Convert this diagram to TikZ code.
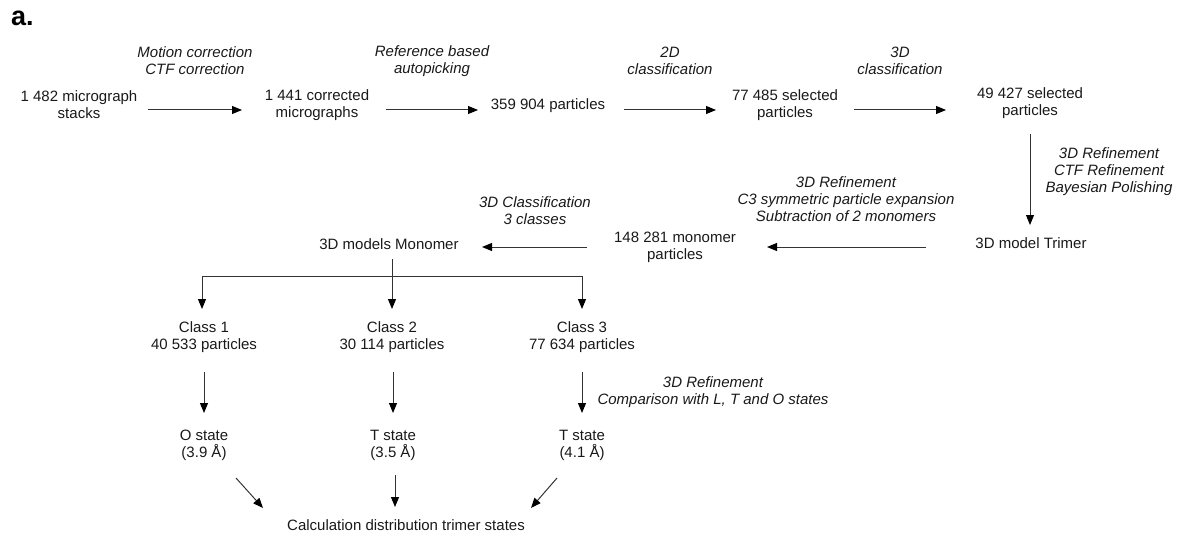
\documentclass[tikz,border=0pt]{standalone}
\usepackage{fontspec}
\setmainfont{Liberation Sans}
\usetikzlibrary{arrows.meta,calc}
\begin{document}
\begin{tikzpicture}[x=1pt,y=-1pt,
  txt/.style={font=\fontsize{15}{17}\selectfont, align=center, inner sep=0pt, text=black!90},
  lbl/.style={txt, font=\fontsize{15}{17}\selectfont\itshape},
  arr/.style={draw=black!80, line width=1pt, -{Triangle[length=10pt,width=8pt,color=black]}}]
\useasboundingbox (0,0) rectangle (1182,540);

\node[font=\fontsize{27}{30}\selectfont\bfseries, anchor=base west, inner sep=0pt, text=black] (tag) at (11,26) {a.};

% main nodes
\node[txt] (n1) at (79,105) {1 482 micrograph\\stacks};
\node[txt] (n2) at (317,105) {1 441 corrected\\micrographs};
\node[txt] (n3) at (548,106) {359 904 particles};
\node[txt] (n4) at (785,105) {77 485 selected\\particles};
\node[txt] (n5) at (1030,103) {49 427 selected\\particles};
\node[txt] (n6) at (1031,243) {3D model Trimer};
\node[txt] (n7) at (675,247) {148 281 monomer\\particles};
\node[txt] (n8) at (389,244) {3D models Monomer};
\node[txt] (c1) at (204,337) {Class 1\\40 533 particles};
\node[txt] (c2) at (392,337) {Class 2\\30 114 particles};
\node[txt] (c3) at (582,337) {Class 3\\77 634 particles};
\node[txt] (s1) at (204,445) {O state\\(3.9 Å)};
\node[txt] (s2) at (393,445) {T state\\(3.5 Å)};
\node[txt] (s3) at (582,445) {T state\\(4.1 Å)};
\node[txt] (fin) at (406,525) {Calculation distribution trimer states};

% labels
\node[lbl] (l1) at (195,61) {Motion correction\\CTF correction};
\node[lbl] (l2) at (432,61) {Reference based\\autopicking};
\node[lbl] (l3) at (670,61) {2D\\classification};
\node[lbl] (l4) at (900,61) {3D\\classification};
\node[lbl] (l5) at (1109,172) {3D Refinement\\CTF Refinement\\Bayesian Polishing};
\node[lbl] (l6) at (846,199) {3D Refinement\\C3 symmetric particle expansion\\Subtraction of 2 monomers};
\node[lbl] (l7) at (535,211) {3D Classification\\3 classes};
\node[lbl] (l8) at (713,392) {3D Refinement\\Comparison with L, T and O states};

% top row arrows
\draw[arr] ($(n1)+(69,5)$) -- ($(n2)+(-75,5)$);
\draw[arr] ($(n2)+(69,5)$) -- ($(n3)+(-70,4)$);
\draw[arr] ($(n3)+(76,4)$) -- ($(n4)+(-69,5)$);
\draw[arr] ($(n4)+(69,5)$) -- ($(n5)+(-84,7)$);
% down to trimer
\draw[arr] ($(n5)+(0,31)$) -- ($(n6)+(-1,-18)$);
% back row
\draw[arr] ($(n6)+(-105,4)$) -- ($(n7)+(92,0)$);
\draw[arr] ($(n7)+(-88,0)$) -- ($(n8)+(93,3)$);
% tree
\coordinate (j) at ($(n8)+(3,32)$);
\draw[arr] ($(n8)+(3,15)$) -- ($(c2)+(0,-28)$);
\draw[arr] (j) -| ($(c1)+(-2,-28)$);
\draw[arr] (j) -| ($(c3)+(0,-28)$);
% classes to states
\draw[arr] ($(c1)+(0,35)$) -- ($(s1)+(0,-32)$);
\draw[arr] ($(c2)+(1,35)$) -- ($(s2)+(0,-32)$);
\draw[arr] ($(c3)+(0,35)$) -- ($(s3)+(0,-32)$);
% states to final
\draw[arr] ($(s1)+(32,33)$) -- ($(fin)+(-143,-17)$);
\draw[arr] ($(s2)+(2,30)$) -- ($(fin)+(-11,-18)$);
\draw[arr] ($(s3)+(-25,33)$) -- ($(fin)+(125,-17)$);
\end{tikzpicture}
\end{document}
